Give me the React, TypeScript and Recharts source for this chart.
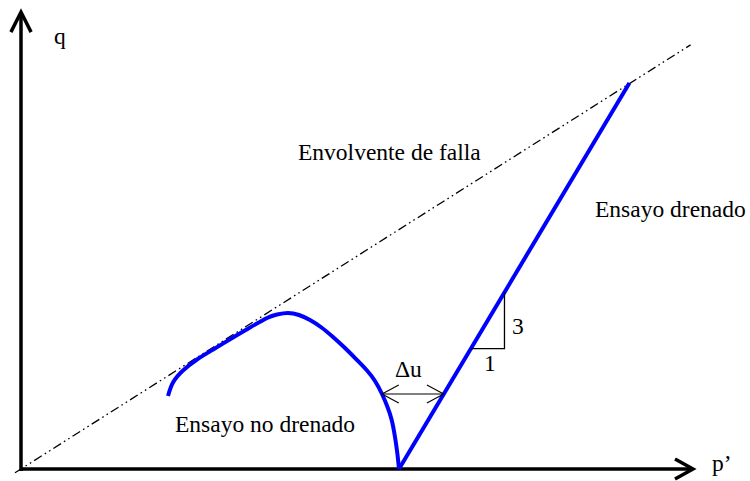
import React from "react";
import { ComposedChart, Line, XAxis, YAxis } from "recharts";

// Undrained stress path in the p'–q plane
const undrainedP = [61.25, 63.33, 67.5, 73.33, 80.42, 88.33, 95.42, 102.5, 106.67, 111.25, 115.83, 120.42, 125.21, 130, 135, 140, 144.17, 147.5, 150.42, 152.71, 154.46, 155.83, 156.79, 157.5];
const undrainedQ = [54.56, 64.65, 73.62, 81.84, 89.69, 98.28, 105.76, 112.86, 115.47, 116.59, 115.1, 111.36, 105.76, 98.65, 90.43, 81.46, 73.62, 65.77, 56.05, 46.34, 36.62, 23.92, 11.96, 0];

// Drained stress path (slope 3:1)
const drainedP = [157.5, 253.5];
const drainedQ = [0, 288.5];

// Failure envelope
const envelopeP = [-2.5, 279];
const envelopeQ = [-2.8, 317];

// Excess pore pressure marker level and slope triangle
const deltaUQ = 56;
const deltaUStartP = 150.4;
const slopeBaseQ = 90;
const slopeRun = 14;

// Axis extents
const xAxisEnd = 280;
const yAxisEnd = 341.5;

// Annotation texts
const axisLabels = { q: "q", p: "p’" };
const pathLabels = {
  envelope: "Envolvente de falla",
  drained: "Ensayo drenado",
  undrained: "Ensayo no drenado",
  deltaU: "Δu",
  rise: "3",
  run: "1",
};

const X_DOMAIN: [number, number] = [-5, 282];
const Y_DOMAIN: [number, number] = [-8, 343];

type Pt = { p: number; q: number };
const zip = (ps: number[], qs: number[]): Pt[] => ps.map((p, i) => ({ p, q: qs[i] }));

const drainedSlope = (drainedQ[1] - drainedQ[0]) / (drainedP[1] - drainedP[0]);
const deltaUEndP = drainedP[0] + deltaUQ / drainedSlope;
const slopeStartP = drainedP[0] + slopeBaseQ / drainedSlope;
const slopeEndP = slopeStartP + slopeRun;
const slopeTopQ = slopeBaseQ + slopeRun * drainedSlope;

const undrained = zip(undrainedP, undrainedQ);
const drained = zip(drainedP, drainedQ);
const envelope = zip(envelopeP, envelopeQ);

const xAxisLine: Pt[] = [{ p: -0.5, q: 0 }, { p: xAxisEnd, q: 0 }];
const yAxisLine: Pt[] = [{ p: 0, q: -1.5 }, { p: 0, q: yAxisEnd }];
const xArrow: Pt[] = [
  { p: xAxisEnd - 7.5, q: 7.5 },
  { p: xAxisEnd, q: 0 },
  { p: xAxisEnd - 7.5, q: -7.5 },
];
const yArrow: Pt[] = [
  { p: -4.2, q: yAxisEnd - 15 },
  { p: 0, q: yAxisEnd },
  { p: 4.2, q: yAxisEnd - 15 },
];

const duLine: Pt[] = [{ p: deltaUStartP, q: deltaUQ }, { p: deltaUEndP, q: deltaUQ }];
const duLeftHead: Pt[] = [
  { p: deltaUStartP + 7, q: deltaUQ + 6.7 },
  { p: deltaUStartP, q: deltaUQ },
  { p: deltaUStartP + 7, q: deltaUQ - 6.7 },
];
const duRightHead: Pt[] = [
  { p: deltaUEndP - 7, q: deltaUQ + 6.7 },
  { p: deltaUEndP, q: deltaUQ },
  { p: deltaUEndP - 7, q: deltaUQ - 6.7 },
];
const slopeTriangle: Pt[] = [
  { p: slopeStartP, q: slopeBaseQ },
  { p: slopeEndP, q: slopeBaseQ },
  { p: slopeEndP, q: slopeTopQ },
];

const W = 750;
const H = 481;

const textStyle: React.CSSProperties = {
  fontFamily: "'Liberation Serif'",
  fontSize: 23.5,
  fill: "#000",
};

const common = {
  dataKey: "q",
  dot: false,
  activeDot: false,
  isAnimationActive: false,
  legendType: "none" as const,
};

export default function App() {
  return (
    <div style={{ position: "absolute", left: 0, top: 0, width: W, height: H, background: "#fff" }}>
      <ComposedChart
        width={W}
        height={H}
        margin={{ left: 9, right: 52.2, top: 10.07, bottom: 1.3 }}
      >
        <XAxis type="number" dataKey="p" domain={X_DOMAIN} hide />
        <YAxis type="number" domain={Y_DOMAIN} hide width={0} />

        <Line {...common} data={envelope} type="linear" stroke="#000" strokeWidth={1.3}
          strokeDasharray="9 3.5 1.6 3.5 1.6 3.5" />

        <Line {...common} data={xAxisLine} type="linear" stroke="#000" strokeWidth={3.5} />
        <Line {...common} data={yAxisLine} type="linear" stroke="#000" strokeWidth={3.5} />
        <Line {...common} data={xArrow} type="linear" stroke="#000" strokeWidth={3.5} strokeLinejoin="miter" />
        <Line {...common} data={yArrow} type="linear" stroke="#000" strokeWidth={3.5} strokeLinejoin="miter" />

        <Line {...common} data={undrained} type="natural" stroke="#0000ff" strokeWidth={4} />
        <Line {...common} data={drained} type="linear" stroke="#0000ff" strokeWidth={4} />

        <Line {...common} data={duLine} type="linear" stroke="#000" strokeWidth={1.1} />
        <Line {...common} data={duLeftHead} type="linear" stroke="#000" strokeWidth={1.1} />
        <Line {...common} data={duRightHead} type="linear" stroke="#000" strokeWidth={1.1} />
        <Line {...common} data={slopeTriangle} type="linear" stroke="#000" strokeWidth={1.3} />
      </ComposedChart>

      {/* annotation layer */}
      <svg
        width={W}
        height={H}
        style={{ position: "absolute", left: 0, top: 0, pointerEvents: "none" }}
      >
        <text style={textStyle} x={54} y={44}>{axisLabels.q}</text>
        <text style={textStyle} x={712} y={471}>{axisLabels.p}</text>
        <text style={textStyle} x={298} y={160}>{pathLabels.envelope}</text>
        <text style={textStyle} x={595} y={217}>{pathLabels.drained}</text>
        <text style={textStyle} x={175} y={432}>{pathLabels.undrained}</text>
        <text style={textStyle} x={395} y={377}>{pathLabels.deltaU}</text>
        <text style={textStyle} x={512} y={334}>{pathLabels.rise}</text>
        <text style={textStyle} x={484} y={371}>{pathLabels.run}</text>
      </svg>
    </div>
  );
}
